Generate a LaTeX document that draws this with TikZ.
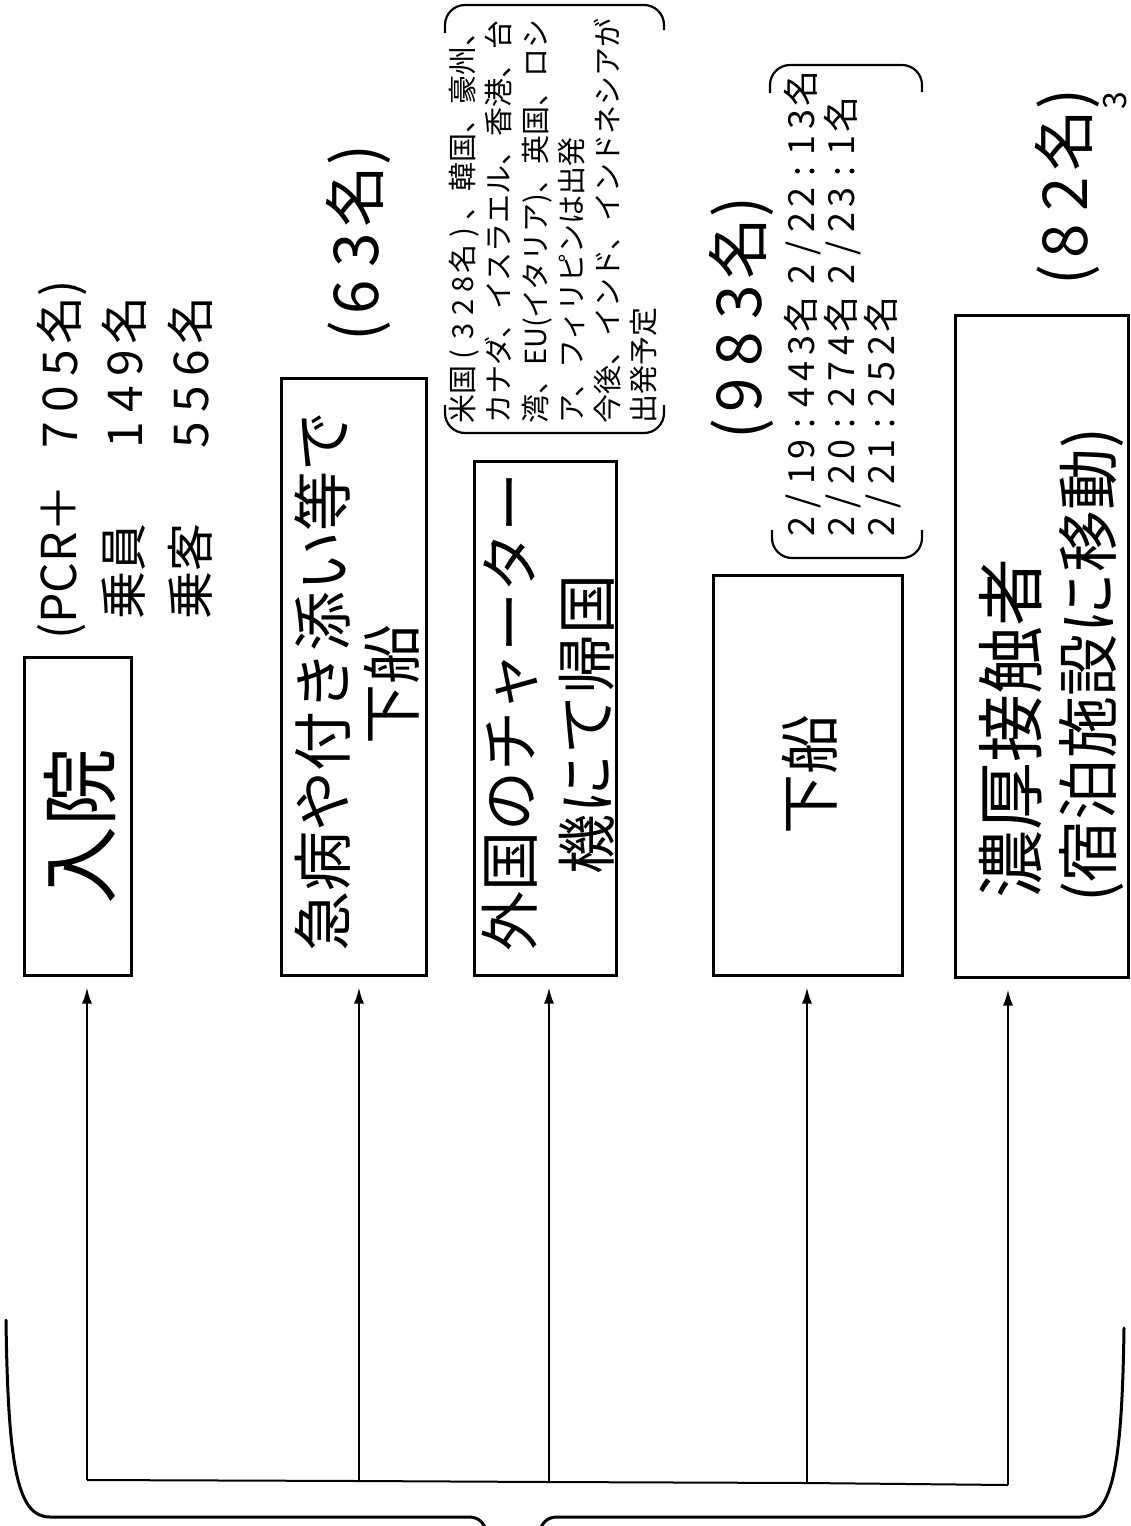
\documentclass[tikz,border=0pt]{standalone}
\usepackage{fontspec}
\setmainfont{Noto Sans CJK JP}
\usetikzlibrary{arrows.meta}
\newcommand\Dg[1]{\makebox[0.75em]{#1}}
\newcommand\Ds[1]{\makebox[0.72em]{#1}}
\newcommand\Dc[1]{\makebox[0.8em]{#1}}
\begin{document}
\begin{tikzpicture}[x=1pt,y=-1pt,
  vt/.style={rotate=90, inner sep=0pt, font=\fontsize{60}{60}\selectfont},
  boxst/.style={draw, line width=3pt, rotate=90, inner sep=0pt},
  conn/.style={line width=2pt},
  arr/.style={line width=2pt, -{Latex[length=16pt,width=10pt]}, shorten >=11pt},
  bracketst/.style={line width=2.2pt, rounded corners=20pt},
  bracest/.style={line width=3pt, line cap=round}]
\useasboundingbox (0,0) rectangle (1131,1526);

% boxes
\node[boxst, minimum width=318pt, minimum height=107pt] (b1) at (77.5,816) {};
\node[boxst, minimum width=597pt, minimum height=145pt] (b2) at (353.5,676.5) {};
\node[boxst, minimum width=514pt, minimum height=142pt] (b3) at (545,718) {};
\node[boxst, minimum width=400pt, minimum height=189pt] (b4) at (807.5,775) {};
\node[boxst, minimum width=662pt, minimum height=173pt] (b5) at (1041.5,646) {};

% box texts
\node[vt, font=\fontsize{78}{78}\selectfont] (t1) at (80,826) {入院};
\node[vt] (t2a) at (323,681) {急病や付き添い等で};
\node[vt] (t2b) at (392,684) {下船};
\node[vt] (t3a) at (510,712) {外国のチャーター};
\node[vt] (t3b) at (587,724) {機にて帰国};
\node[vt] (t4) at (810,774) {下船};
\node[vt, font=\fontsize{68}{68}\selectfont] (t5a) at (1011,728) {濃厚接触者};
\node[vt, font=\fontsize{62}{62}\selectfont] (t5b) at (1091,665) {(宿泊施設に移動)};

% PCR block
\node[vt, anchor=west, font=\fontsize{48}{48}\selectfont] (p1) at (62,640) {(PCR＋};
\node[vt, anchor=west, font=\fontsize{48}{48}\selectfont] (n1) at (62,453) {\Dg{7}\Dg{0}\Dg{5}名)};
\node[vt, anchor=west, font=\fontsize{48}{48}\selectfont] (p2) at (124,620) {乗員};
\node[vt, anchor=west, font=\fontsize{48}{48}\selectfont] (n2) at (124,453) {\Dg{1}\Dg{4}\Dg{9}名};
\node[vt, anchor=west, font=\fontsize{48}{48}\selectfont] (p3) at (190,620) {乗客};
\node[vt, anchor=west, font=\fontsize{48}{48}\selectfont] (n3) at (190,453) {\Dg{5}\Dg{5}\Dg{6}名};

% counts
\node[vt, font=\fontsize{62}{62}\selectfont] (k2) at (358,243) {(\Dg{6}\Dg{3}名)};
\node[vt, font=\fontsize{62}{62}\selectfont] (k4) at (741,318) {(\Dg{9}\Dg{8}\Dg{3}名)};
\node[vt, font=\fontsize{62}{62}\selectfont] (k5) at (1067,187) {(\Dg{8}\Dg{2}名)};
\node[vt, font=\fontsize{32}{32}\selectfont] (pg) at (1115,101) {3};

% countries block
\node[vt, anchor=north west, align=left, font=\fontsize{29}{36.2}\selectfont] (cty) at (449,424)
 {米国\Dc{(}\Dc{3}\Dc{2}\Dc{8}名\Dc{)}、韓国、豪州、\\
  カナダ、イスラエル、香港、台\\
  湾、EU(イタリア)、英国、ロシ\\
  ア、フィリピンは出発\\
  今後、インド、インドネシアが\\
  出発予定};
\draw[bracketst] (445,33) -- (445,5) -- (664,5) -- (664,30);
\draw[bracketst] (445,405) -- (445,433) -- (664,433) -- (664,405);

% dates block
\node[vt, anchor=west, font=\fontsize{36}{36}\selectfont] (d1) at (803,540) {\Ds{2}\Ds{/}\Ds{1}\Ds{9}\Ds{:}\Ds{4}\Ds{4}\Ds{3}名};
\node[vt, anchor=west, font=\fontsize{36}{36}\selectfont] (d2) at (803,288) {\Ds{2}\Ds{/}\Ds{2}\Ds{2}\Ds{:}\Ds{1}\Ds{3}名};
\node[vt, anchor=west, font=\fontsize{36}{36}\selectfont] (d3) at (843,540) {\Ds{2}\Ds{/}\Ds{2}\Ds{0}\Ds{:}\Ds{2}\Ds{7}\Ds{4}名};
\node[vt, anchor=west, font=\fontsize{36}{36}\selectfont] (d4) at (843,288) {\Ds{2}\Ds{/}\Ds{2}\Ds{3}\Ds{:}\Ds{1}名};
\node[vt, anchor=west, font=\fontsize{36}{36}\selectfont] (d5) at (883,540) {\Ds{2}\Ds{/}\Ds{2}\Ds{1}\Ds{:}\Ds{2}\Ds{5}\Ds{2}名};
\draw[bracketst] (770,93) -- (770,65) -- (922,65) -- (922,92);
\draw[bracketst] (772,530) -- (772,558) -- (922,558) -- (922,530);

% connectors
\coordinate (c1) at (87,1480);
\coordinate (c2) at (359,1481);
\coordinate (c3) at (549,1482);
\coordinate (c4) at (807,1483);
\coordinate (c5) at (1008,1485);
\draw[conn] (c1) -- (c2) -- (c3) -- (c4) -- (c5);
\draw[arr] (c1) -- (c1 |- b1.west);
\draw[arr] (c2) -- (c2 |- b2.west);
\draw[arr] (c3) -- (c3 |- b3.west);
\draw[arr] (c4) -- (c4 |- b4.west);
\draw[arr] (c5) -- (c5 |- b5.west);

% brace
\draw[bracest] (6,1320) .. controls (8,1470) and (18,1517) .. (50,1517)
  -- (468,1517) .. controls (478,1517) and (483,1521) .. (487,1532);
\draw[bracest] (1124,1328) .. controls (1122,1470) and (1112,1517) .. (1080,1517)
  -- (558,1517) .. controls (548,1517) and (543,1521) .. (539,1532);
\end{tikzpicture}
\end{document}
